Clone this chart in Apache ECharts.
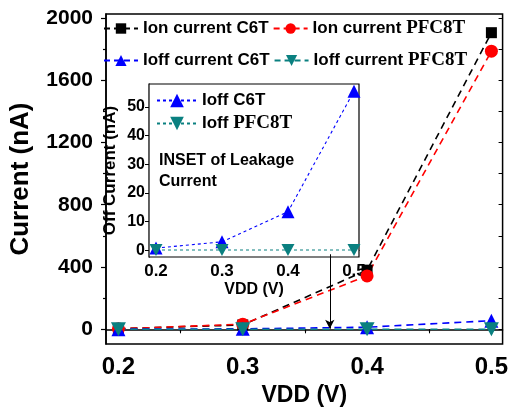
<!DOCTYPE html>
<html>
<head>
<meta charset="utf-8">
<script src="https://cdn.jsdelivr.net/npm/echarts@6/dist/echarts.min.js"></script>
<style>html,body{margin:0;padding:0;background:#fff}#c{width:511px;height:412px}</style>
</head>
<body>
<div id="c"></div>
<script>
// ---- data ----
const vdd = [0.2, 0.3, 0.4, 0.5];
const ionC6T = [4, 28, 380, 1905];
const ionPFC8T = [3, 33, 343, 1786];
const ioffC6T = [0.7, 2.9, 13.4, 55.5];
const ioffPFC8T = [0.05, 0.05, 0.05, 0.05];
const mainYTicks = [0, 400, 800, 1200, 1600, 2000];
const mainYMinor = [200, 600, 1000, 1400, 1800];
const xTicks = [0.2, 0.3, 0.4, 0.5];
const xMinor = [0.25, 0.35, 0.45];
const insetYTicks = [0, 10, 20, 30, 40, 50];
const insetYMinor = [5, 15, 25, 35, 45, 55];
const arrowFrom = [0.37, 482];
const arrowTo = [0.37, 4];

const pts = (ys) => vdd.map((x, i) => [x, ys[i]]);
const SANS = 'Liberation Sans';
const SERIF = 'Liberation Serif';
const downTri = 'path://M0,0 L10,0 L5,9 Z';

const legendFmt = (name) => name.endsWith('PFC8T')
  ? '{a|' + name.replace(' PFC8T', ' ') + '}{s|PFC8T}'
  : '{a|' + name + '}';

const chart = echarts.init(document.getElementById('c'), null, {renderer: 'canvas'});

const axisLine = {show: true, lineStyle: {color: '#000', width: 1.5}};

const option = {
  backgroundColor: '#fff',
  animation: false,
  grid: [
    {left: 103, top: 14, right: 7, bottom: 64, show: true, borderColor: '#000', borderWidth: 1.5},
    {left: 149, top: 84, right: 152, bottom: 155, show: true, borderColor: '#000', borderWidth: 1.2, backgroundColor: '#fff', z: 5}
  ],
  legend: [
    {
      data: ['Ion current C6T', 'Ion current PFC8T'],
      left: 103, top: 19, padding: 0, itemGap: 4, itemWidth: 34, itemHeight: 13,
      formatter: legendFmt,
      lineStyle: {type: [6, 4]},
      textStyle: {rich: {
        a: {fontFamily: SANS, fontWeight: 'bold', fontSize: 17, color: '#000'},
        s: {fontFamily: SERIF, fontWeight: 'bold', fontSize: 19, color: '#000'}
      }}
    },
    {
      data: ['Ioff current C6T', 'Ioff current PFC8T'],
      left: 103, top: 51, padding: 0, itemGap: 4, itemWidth: 34, itemHeight: 14,
      formatter: legendFmt,
      lineStyle: {type: [6, 4]},
      textStyle: {rich: {
        a: {fontFamily: SANS, fontWeight: 'bold', fontSize: 17, color: '#000'},
        s: {fontFamily: SERIF, fontWeight: 'bold', fontSize: 19, color: '#000'}
      }}
    },
    {
      data: ['Ioff C6T', 'Ioff PFC8T'],
      left: 156, top: 92, orient: 'vertical', padding: 0, itemGap: 5, itemWidth: 40, itemHeight: 17,
      formatter: legendFmt, z: 10,
      textStyle: {rich: {
        a: {fontFamily: SANS, fontWeight: 'bold', fontSize: 17, color: '#000'},
        s: {fontFamily: SERIF, fontWeight: 'bold', fontSize: 19, color: '#000'}
      }}
    }
  ],
  graphic: [
    {type: 'text', left: 159, top: 150, z: 20, style: {text: 'INSET of Leakage\nCurrent', fontFamily: SANS, fontWeight: 'bold', fontSize: 16, lineHeight: 21, fill: '#000'}}
  ],
  xAxis: [
    {gridIndex: 0, type: 'value', min: 0.19, max: 0.509, position: 'bottom',
      name: 'VDD (V)', nameLocation: 'middle', nameGap: 33,
      nameTextStyle: {fontFamily: SANS, fontWeight: 'bold', fontSize: 23, color: '#000'},
      axisLine: axisLine, splitLine: {show: false},
      axisTick: {show: true, inside: false, length: 5, customValues: xTicks, lineStyle: {color: '#000', width: 1.2}},
      axisLabel: {customValues: xTicks, fontFamily: SANS, fontWeight: 'bold', fontSize: 24, color: '#000', margin: 11, formatter: v => v.toFixed(1)}
    },
    {gridIndex: 0, type: 'value', min: 0.19, max: 0.509, position: 'bottom',
      axisLine: {show: false}, splitLine: {show: false}, axisLabel: {show: false},
      axisTick: {show: true, inside: false, length: 3, customValues: xMinor, lineStyle: {color: '#000', width: 1.2}}
    },
    {gridIndex: 0, type: 'value', min: 0.19, max: 0.509, position: 'top',
      axisLine: {show: false}, splitLine: {show: false}, axisLabel: {show: false},
      axisTick: {show: true, inside: true, length: 4, customValues: [0.2, 0.25, 0.3, 0.35, 0.4, 0.45, 0.5], lineStyle: {color: '#000', width: 1}}
    },
    {gridIndex: 1, type: 'value', min: 0.1894, max: 0.5076, position: 'bottom',
      name: 'VDD (V)', nameLocation: 'middle', nameGap: 25,
      nameTextStyle: {fontFamily: SANS, fontWeight: 'bold', fontSize: 16, color: '#000'},
      axisLine: {show: true, lineStyle: {color: '#000', width: 1.2}}, splitLine: {show: false},
      axisTick: {show: true, inside: false, length: 4, customValues: xTicks, lineStyle: {color: '#000', width: 1}},
      axisLabel: {customValues: xTicks, fontFamily: SANS, fontWeight: 'bold', fontSize: 17, color: '#000', margin: 6, formatter: v => v.toFixed(1)}
    },
    {gridIndex: 1, type: 'value', min: 0.1894, max: 0.5076, position: 'top',
      axisLine: {show: false}, splitLine: {show: false}, axisLabel: {show: false},
      axisTick: {show: true, inside: true, length: 3, customValues: [0.2, 0.25, 0.3, 0.35, 0.4, 0.45, 0.5], lineStyle: {color: '#000', width: 1}}
    }
  ],
  yAxis: [
    {gridIndex: 0, type: 'value', min: -95, max: 2025, position: 'left',
      name: 'Current (nA)', nameLocation: 'middle', nameGap: 72, nameRotate: 90,
      nameTextStyle: {fontFamily: SANS, fontWeight: 'bold', fontSize: 26, color: '#000'},
      axisLine: axisLine, splitLine: {show: false},
      axisTick: {show: true, inside: false, length: 5, customValues: mainYTicks, lineStyle: {color: '#000', width: 1.2}},
      axisLabel: {customValues: mainYTicks, fontFamily: SANS, fontWeight: 'bold', fontSize: 21, color: '#000', margin: 13, formatter: v => String(v)}
    },
    {gridIndex: 0, type: 'value', min: -95, max: 2025, position: 'left',
      axisLine: {show: false}, splitLine: {show: false}, axisLabel: {show: false},
      axisTick: {show: true, inside: false, length: 3, customValues: mainYMinor, lineStyle: {color: '#000', width: 1.2}}
    },
    {gridIndex: 0, type: 'value', min: -95, max: 2025, position: 'right',
      axisLine: {show: false}, splitLine: {show: false}, axisLabel: {show: false},
      axisTick: {show: true, inside: true, length: 4, customValues: mainYTicks.concat(mainYMinor), lineStyle: {color: '#000', width: 1}}
    },
    {gridIndex: 1, type: 'value', min: -2.4, max: 58, position: 'left',
      name: 'Off Current (nA)', nameLocation: 'middle', nameGap: 30, nameRotate: 90,
      nameTextStyle: {fontFamily: SANS, fontWeight: 'bold', fontSize: 17, color: '#000'},
      axisLine: {show: true, lineStyle: {color: '#000', width: 1.2}}, splitLine: {show: false},
      axisTick: {show: true, inside: false, length: 4, customValues: insetYTicks, lineStyle: {color: '#000', width: 1}},
      axisLabel: {customValues: insetYTicks, fontFamily: SANS, fontWeight: 'bold', fontSize: 16, color: '#000', margin: 4, formatter: v => String(v)}
    },
    {gridIndex: 1, type: 'value', min: -2.4, max: 58, position: 'right',
      axisLine: {show: false}, splitLine: {show: false}, axisLabel: {show: false},
      axisTick: {show: true, inside: true, length: 3, customValues: insetYTicks.concat(insetYMinor), lineStyle: {color: '#000', width: 1}}
    }
  ],
  series: [
    {name: 'Ion current C6T', type: 'line', xAxisIndex: 0, yAxisIndex: 0, data: pts(ionC6T),
      symbol: 'rect', symbolSize: 11, color: '#000',
      lineStyle: {type: [7, 5], width: 1.6, color: '#000'}, itemStyle: {color: '#000'},
      markLine: {silent: true, symbol: ['none', 'arrow'], symbolSize: [7, 9], label: {show: false},
        lineStyle: {type: 'solid', color: '#000', width: 1},
        data: [[{coord: arrowFrom}, {coord: arrowTo}]]}
    },
    {name: 'Ion current PFC8T', type: 'line', xAxisIndex: 0, yAxisIndex: 0, data: pts(ionPFC8T),
      symbol: 'circle', symbolSize: 13, color: '#ff0000',
      lineStyle: {type: [7, 5], width: 1.6, color: '#ff0000'}, itemStyle: {color: '#ff0000'}},
    {name: 'Ioff current C6T', type: 'line', xAxisIndex: 0, yAxisIndex: 0, data: pts(ioffC6T),
      symbol: 'triangle', symbolSize: 14, color: '#0000ff',
      lineStyle: {type: [7, 5], width: 1.6, color: '#0000ff'}, itemStyle: {color: '#0000ff'}},
    {name: 'Ioff current PFC8T', type: 'line', xAxisIndex: 0, yAxisIndex: 0, data: pts(ioffPFC8T),
      symbol: downTri, symbolSize: [15, 14], color: '#0a8080',
      lineStyle: {type: [7, 5], width: 1.6, color: '#0a8080'}, itemStyle: {color: '#0a8080'}},
    {name: 'Ioff C6T', type: 'line', xAxisIndex: 3, yAxisIndex: 3, data: pts(ioffC6T), z: 8,
      symbol: 'triangle', symbolSize: 13, color: '#0000ff',
      lineStyle: {type: [3, 3], width: 1.1, color: '#0000ff'}, itemStyle: {color: '#0000ff'}},
    {name: 'Ioff PFC8T', type: 'line', xAxisIndex: 3, yAxisIndex: 3, data: pts(ioffPFC8T), z: 8,
      symbol: downTri, symbolSize: [13, 12], color: '#0a8080',
      lineStyle: {type: [3, 3], width: 1.1, color: '#0a8080'}, itemStyle: {color: '#0a8080'}}
  ]
};
chart.setOption(option);
</script>
</body>
</html>
